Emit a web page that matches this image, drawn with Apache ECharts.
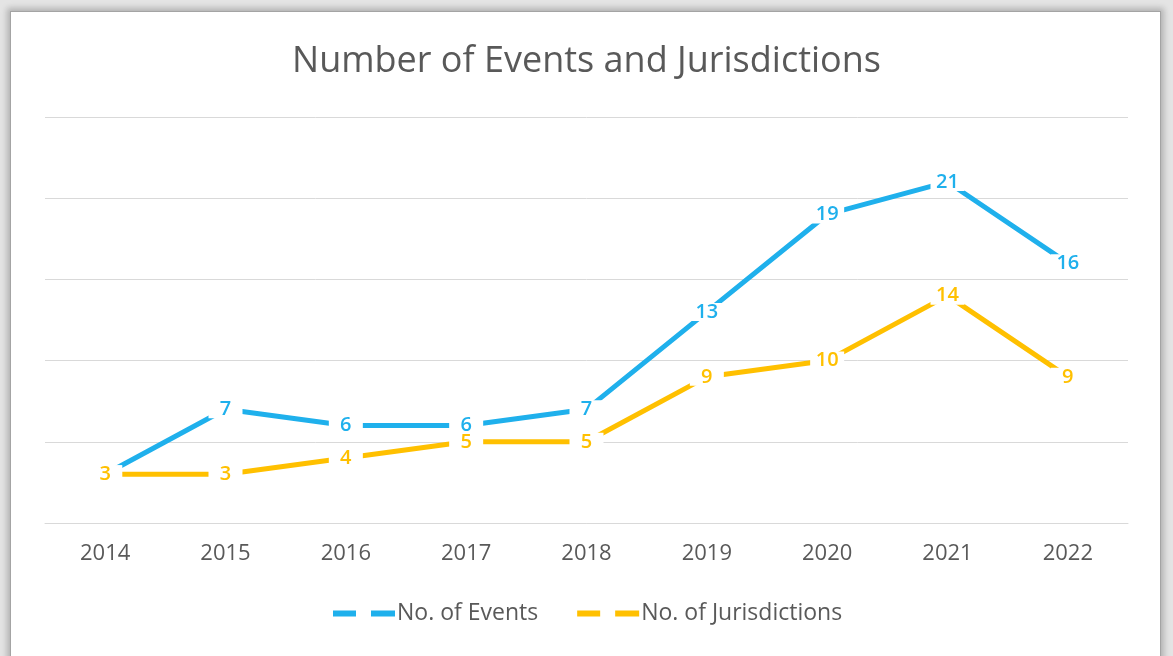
<!DOCTYPE html>
<html>
<head>
<meta charset="utf-8">
<script src="https://cdn.jsdelivr.net/npm/echarts@6/dist/echarts.min.js"></script>
<style>
  html, body { margin: 0; padding: 0; width: 1173px; height: 656px; overflow: hidden; background: #e4e4e4; }
  #frame { position: absolute; left: 10px; top: 11px; width: 1149px; height: 660px; background: #fff;
           border: 1px solid #a4a4a4; box-shadow: 0 0 6px 3px rgba(0,0,0,0.22); }
  #chart { position: absolute; left: 0; top: 0; width: 1173px; height: 656px; }
</style>
</head>
<body>
<div id="frame"></div>
<div id="chart"></div>
<script>
  // values
  var years = ["2014", "2015", "2016", "2017", "2018", "2019", "2020", "2021", "2022"];
  var events = [3, 7, 6, 6, 7, 13, 19, 21, 16];
  var jurisdictions = [3, 3, 4, 5, 5, 9, 10, 14, 9];

  var BLUE = "#1fb0ec";
  var GOLD = "#ffc000";
  var GREY = "#595959";
  var FONT = "Open Sans";
  var DASHES = "path://M0,0H23V6H0Z M38,0H62V6H38Z";

  function dataLabel(color) {
    // white box so the line breaks around the number, like the original
    return {
      show: true,
      position: "inside",
      color: color,
      fontFamily: FONT,
      fontSize: 20,
      fontWeight: 600,
      lineHeight: 18,
      width: 34,
      align: "center",
      backgroundColor: "#fff",
      padding: [0, 0]
    };
  }

  var chart = echarts.init(document.getElementById("chart"), null, { renderer: "canvas" });
  var option = {
    backgroundColor: "transparent",
    animation: false,
    title: {
      text: "Number of Events and Jurisdictions",
      left: "center",
      top: 44,
      padding: 0,
      textStyle: { color: GREY, fontFamily: FONT, fontSize: 36, fontWeight: "normal" }
    },
    legend: {
      left: 328,
      top: 597,
      itemWidth: 62,
      itemHeight: 6,
      itemGap: 39,
      textStyle: { color: GREY, fontFamily: FONT, fontSize: 23, padding: [0, 0, 0, -3] },
      data: [
        { name: "No. of Events", icon: DASHES },
        { name: "No. of Jurisdictions", icon: DASHES }
      ]
    },
    grid: { left: 45, right: 45, top: 117, bottom: 133 },
    xAxis: {
      type: "category",
      data: years,
      axisLine: { lineStyle: { color: "#d9d9d9", width: 1 } },
      axisTick: { show: false },
      axisLabel: { color: GREY, fontFamily: FONT, fontSize: 22, margin: 20 }
    },
    yAxis: {
      type: "value",
      min: 0,
      max: 25,
      interval: 5,
      axisLine: { show: false },
      axisTick: { show: false },
      axisLabel: { show: false },
      splitLine: { lineStyle: { color: "#d9d9d9", width: 1 } }
    },
    series: [
      {
        name: "No. of Events",
        type: "line",
        data: events,
        color: BLUE,
        symbol: "circle",
        symbolSize: 2,
        lineStyle: { width: 5, color: BLUE },
        itemStyle: { color: BLUE },
        label: dataLabel(BLUE)
      },
      {
        name: "No. of Jurisdictions",
        type: "line",
        data: jurisdictions,
        color: GOLD,
        symbol: "circle",
        symbolSize: 2,
        lineStyle: { width: 5, color: GOLD },
        itemStyle: { color: GOLD },
        label: dataLabel(GOLD)
      }
    ]
  };
  chart.setOption(option);
</script>
</body>
</html>
